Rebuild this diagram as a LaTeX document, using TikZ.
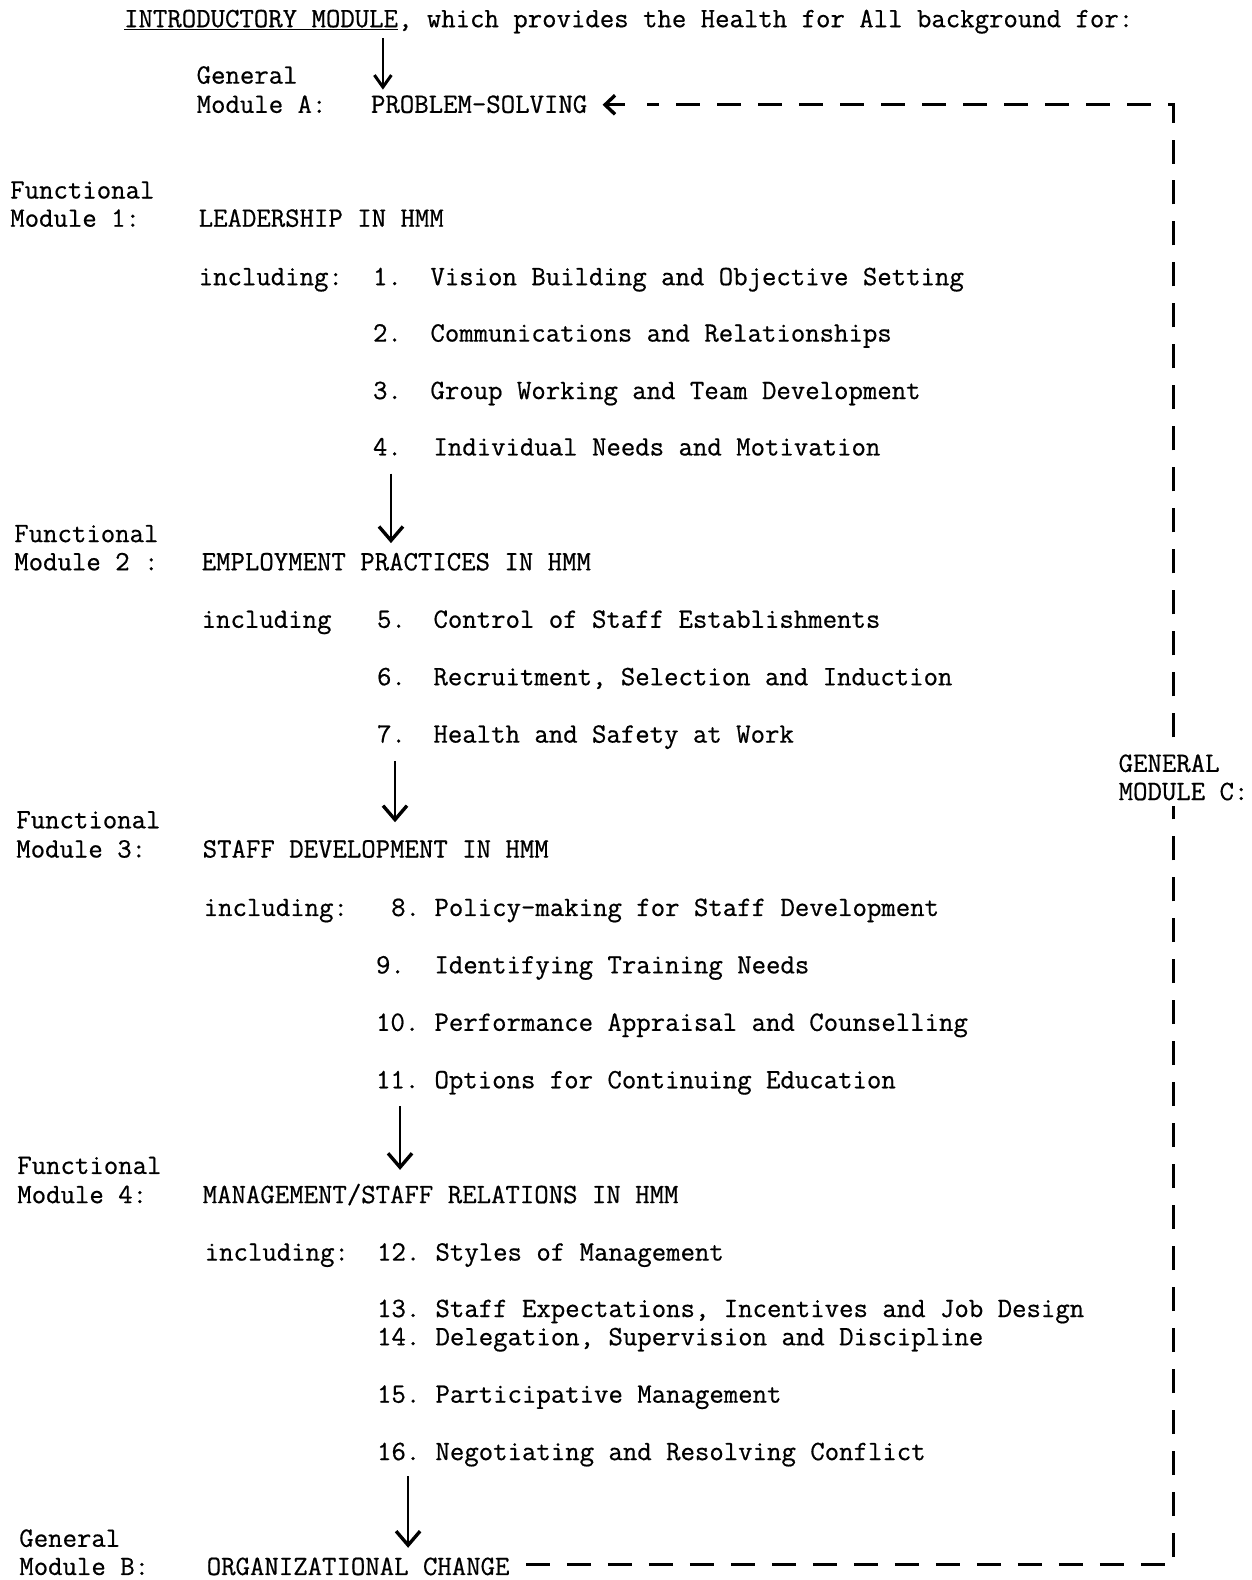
\documentclass[tikz,border=0pt]{standalone}
\usepackage{fontspec}
\newfontfamily\typewriter{Latin Modern Mono}[FakeBold=0.6]
\usetikzlibrary{arrows.meta}
\begin{document}
\begin{tikzpicture}[x={(1.008pt,0)},y={(0,-1.008pt)},
  txt/.style={anchor=base west,inner sep=0pt,font=\typewriter\fontsize{28}{31}\selectfont},
  arr/.style={line width=1.7pt,-{Straight Barb[length=14pt,width=24pt,line width=3.4pt]}},
  loop/.style={line width=3pt,dash pattern=on 24pt off 17pt}]
\useasboundingbox (0,0) rectangle (1242,1568);
% heading
\node[txt] (intro) at (123,27) {\underline{INTRODUCTORY MODULE}, which provides the Health for All background for:};
% general module A
\node[txt] (gA1) at (195,83) {General};
\node[txt] (gA2) at (195,112) {Module A:};
\node[txt] (ps) at (368,112) {PROBLEM-SOLVING};
% functional module 1
\node[txt] (f1a) at (10,197) {Functional};
\node[txt] (f1b) at (10,225) {Module 1:};
\node[txt] (m1) at (197,225) {LEADERSHIP IN HMM};
\node[txt] (inc1) at (197,283) {including:};
\node[txt] (n1) at (370,283) {1.};  \node[txt] (t1) at (427,283) {Vision Building and Objective Setting};
\node[txt] (n2) at (370,339) {2.};  \node[txt] (t2) at (427,339) {Communications and Relationships};
\node[txt] (n3) at (370,396) {3.};  \node[txt] (t3) at (427,396) {Group Working and Team Development};
\node[txt] (n4) at (370,452) {4.};  \node[txt] (t4) at (430,452) {Individual Needs and Motivation};
% functional module 2
\node[txt] (f2a) at (14,538) {Functional};
\node[txt] (f2b) at (14,566) {Module 2 :};
\node[txt] (m2) at (200,566) {EMPLOYMENT PRACTICES IN HMM};
\node[txt] (inc2) at (200,623) {including};
\node[txt] (n5) at (374,623) {5.};  \node[txt] (t5) at (430,623) {Control of Staff Establishments};
\node[txt] (n6) at (374,680) {6.};  \node[txt] (t6) at (430,680) {Recruitment, Selection and Induction};
\node[txt] (n7) at (374,737) {7.};  \node[txt] (t7) at (430,737) {Health and Safety at Work};
% functional module 3
\node[txt] (f3a) at (16,822) {Functional};
\node[txt] (f3b) at (16,851) {Module 3:};
\node[txt] (m3) at (201,851) {STAFF DEVELOPMENT IN HMM};
\node[txt] (inc3) at (202,909) {including:};
\node[txt] (n8) at (388,909) {8.};   \node[txt] (t8) at (431,909) {Policy-making for Staff Development};
\node[txt] (n9) at (373,966) {9.};   \node[txt] (t9) at (431,966) {Identifying Training Needs};
\node[txt] (n10) at (373,1023) {10.}; \node[txt] (t10) at (431,1023) {Performance Appraisal and Counselling};
\node[txt] (n11) at (373,1080) {11.}; \node[txt] (t11) at (431,1080) {Options for Continuing Education};
% functional module 4
\node[txt] (f4a) at (17,1165) {Functional};
\node[txt] (f4b) at (17,1194) {Module 4:};
\node[txt] (m4) at (201,1194) {MANAGEMENT/STAFF RELATIONS IN HMM};
\node[txt] (inc4) at (203,1251) {including:};
\node[txt] (n12) at (374,1251) {12.}; \node[txt] (t12) at (432,1251) {Styles of Management};
\node[txt] (n13) at (374,1307) {13.}; \node[txt] (t13) at (432,1307) {Staff Expectations, Incentives and Job Design};
\node[txt] (n14) at (374,1335) {14.}; \node[txt] (t14) at (432,1335) {Delegation, Supervision and Discipline};
\node[txt] (n15) at (374,1392) {15.}; \node[txt] (t15) at (432,1392) {Participative Management};
\node[txt] (n16) at (374,1449) {16.}; \node[txt] (t16) at (432,1449) {Negotiating and Resolving Conflict};
% general module B
\node[txt] (gB1) at (19,1535) {General};
\node[txt] (gB2) at (19,1563) {Module B:};
\node[txt] (oc) at (205,1563) {ORGANIZATIONAL CHANGE};
% arrows down the sequence
\coordinate (a0s) at (380,38);   \coordinate (a0e) at (380,89);
\coordinate (a1s) at (388,470);  \coordinate (a1e) at (388,539);
\coordinate (a2s) at (392,755);  \coordinate (a2e) at (392,816);
\coordinate (a3s) at (397,1098); \coordinate (a3e) at (397,1161);
\coordinate (a4s) at (405,1465); \coordinate (a4e) at (405,1536);
\draw[arr,-{Straight Barb[length=12pt,width=17pt,line width=3pt]}] (a0s) -- (a0e);
\foreach \i in {1,...,4} \draw[arr] (a\i s) -- (a\i e);
% feedback loop through general module C
\coordinate (cbr) at (1165,1553);
\coordinate (ctr) at (1165,104);
\coordinate (ocend) at (522,1553);
\coordinate (psstart) at (620,104);
\coordinate (psend) at (598,104);
\draw[loop] (ocend) -- (cbr) -- (ctr) -- (642,104);
\draw[line width=2.6pt,-{Straight Barb[length=10pt,width=19pt,line width=3.4pt]}] (psstart) -- (psend);
\node[txt,fill=white,inner ysep=14pt,inner xsep=4pt] (gC1) at (1106,766) {GENERAL};
\node[txt,fill=white,inner ysep=6pt,inner xsep=4pt] (gC2) at (1106,794) {MODULE C:};
\end{tikzpicture}
\end{document}
